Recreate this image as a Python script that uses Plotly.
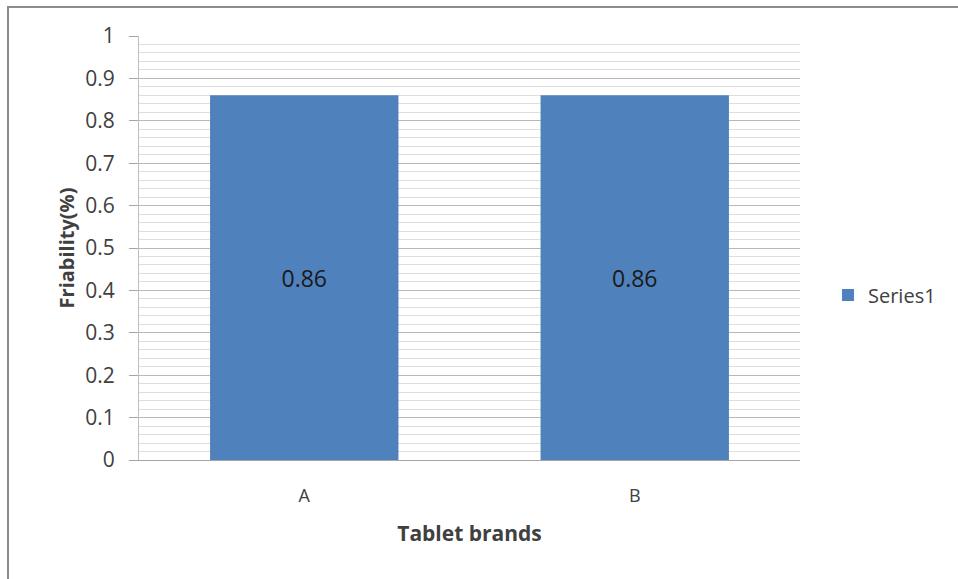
import plotly.graph_objects as go

# Friability of two tablet brands
brands = ["A", "B"]
friability = [0.86, 0.86]
series_name = "Series1"

y_ticks = [0, 0.1, 0.2, 0.3, 0.4, 0.5, 0.6, 0.7, 0.8, 0.9, 1]
y_tick_text = ["0", "0.1", "0.2", "0.3", "0.4", "0.5", "0.6", "0.7", "0.8", "0.9", "1"]

font_family = "Open Sans, Noto Sans, Liberation Sans, sans-serif"
text_col = "#404040"

W, H = 958, 579
L, R, T, B = 139, 158, 36, 119
plot_w = W - L - R
plot_h = H - T - B

fig = go.Figure()
fig.add_trace(go.Bar(
    x=brands,
    y=friability,
    name=series_name,
    width=0.57,
    marker=dict(color="#4F81BD", line=dict(width=0)),
    text=[f"{v:.2f}" for v in friability],
    textposition="inside",
    insidetextanchor="middle",
    textfont=dict(family=font_family, size=23, color="#1a1a1a"),
    showlegend=True,
))

fig.update_layout(
    width=W,
    height=H,
    margin=dict(l=L, r=R, t=T, b=B, autoexpand=False),
    paper_bgcolor="white",
    plot_bgcolor="white",
    font=dict(family=font_family, color=text_col),
    xaxis=dict(
        showgrid=False,
        showline=True,
        linecolor="#a6a6a6",
        linewidth=1,
        ticks="",
        ticklabelstandoff=19,
        tickfont=dict(size=18, color=text_col),
        title=dict(text="<b>Tablet brands</b>", font=dict(size=21, color=text_col), standoff=20),
        zeroline=False,
    ),
    yaxis=dict(
        range=[0, 1],
        tickvals=y_ticks,
        ticktext=y_tick_text,
        tickfont=dict(size=21, color=text_col),
        ticks="outside",
        ticklen=9,
        tickcolor="#a6a6a6",
        ticklabelstandoff=10,
        showline=True,
        linecolor="#bfbfbf",
        linewidth=1,
        showgrid=True,
        gridcolor="#b8b8b8",
        gridwidth=1,
        minor=dict(dtick=0.02, showgrid=True, gridcolor="#dedede", gridwidth=1, ticks=""),
        zeroline=False,
        title=dict(text="<b>Friability(%)</b>", font=dict(size=20, color=text_col), standoff=5),
    ),
    legend=dict(
        x=(828 - L - plot_w) / plot_w + 1, y=(H - B - 295) / plot_h,
        xanchor="left", yanchor="middle",
        font=dict(size=20, color=text_col),
        itemwidth=30,
    ),
)

# Chart frame: left and top edges only
def px_x(v):
    return (v - L) / plot_w

def px_y(v):
    return (H - B - v) / plot_h

frame = dict(color="#8c8c8c", width=2)
fig.add_shape(type="line", xref="paper", yref="paper",
              x0=px_x(8), x1=px_x(8), y0=px_y(6), y1=px_y(H + 2), line=frame)
fig.add_shape(type="line", xref="paper", yref="paper",
              x0=px_x(7), x1=px_x(W + 2), y0=px_y(7), y1=px_y(7), line=frame)

fig.write_html("out.html")
